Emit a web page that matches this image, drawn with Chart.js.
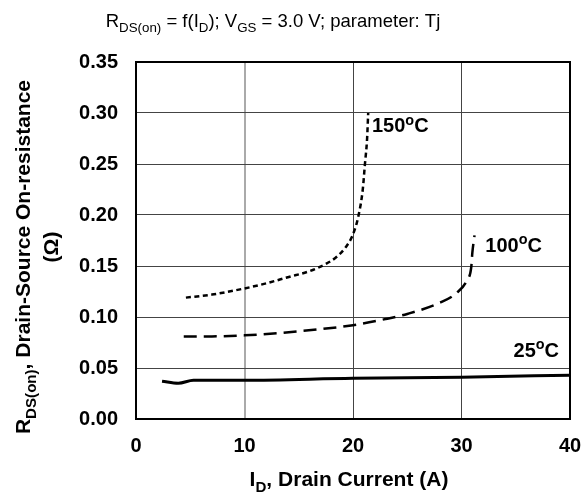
<!DOCTYPE html>
<html>
<head>
<meta charset="utf-8">
<script src="https://cdn.jsdelivr.net/npm/chart.js@4"></script>
<style>
  html, body { margin: 0; padding: 0; background: #fff; }
  #wrap { width: 584px; height: 495px; }
</style>
</head>
<body>
<div id="wrap"><canvas id="chart" width="584" height="495"></canvas></div>
<script>
// Tj = 150 C curve
const id150 = [4.6, 7, 10, 12, 14, 16, 17.5, 18.5, 19.3, 20, 20.5, 20.9, 21.1, 21.3, 21.4];
const r150 = [0.119, 0.122, 0.128, 0.133, 0.139, 0.145, 0.152, 0.159, 0.168, 0.181, 0.199, 0.225, 0.25, 0.275, 0.30];

// Tj = 100 C curve
const id100 = [4.4, 7, 10, 15, 20, 23, 25, 28, 29.6, 30.5, 30.9, 31.0, 31.2];
const r100 = [0.081, 0.081, 0.082, 0.086, 0.092, 0.098, 0.103, 0.114, 0.124, 0.136, 0.149, 0.163, 0.180];

// Tj = 25 C curve
const id25 = [2.4, 3.9, 5.3, 10, 20, 30, 40];
const r25 = [0.037, 0.035, 0.038, 0.038, 0.040, 0.041, 0.043];

const xTicks = [0, 10, 20, 30, 40];
const yTicks = [0, 0.05, 0.10, 0.15, 0.20, 0.25, 0.30, 0.35];

// curve labels: [number, anchor x, anchor y]
const curveLabels = [
  ["150", 21.75, 0.288],
  ["100", 32.2, 0.171],
  ["25", 34.8, 0.068]
];

const FONT = '"Liberation Sans", Arial, Helvetica, sans-serif';

function pts(xs, ys) {
  return xs.map((x, i) => ({ x: x, y: ys[i] }));
}

// draw text made of parts: {t, sub, sup}
function drawRich(ctx, parts, x, y, size, bold, align) {
  const w = bold ? 'bold ' : '';
  let total = 0;
  parts.forEach(p => {
    const s = (p.sub || p.sup) ? size * 0.72 : size;
    ctx.font = w + s + 'px ' + FONT;
    p.w = ctx.measureText(p.t).width;
    total += p.w;
  });
  let cx = align === 'center' ? x - total / 2 : x;
  ctx.textAlign = 'left';
  ctx.textBaseline = 'alphabetic';
  parts.forEach(p => {
    const s = (p.sub || p.sup) ? size * 0.72 : size;
    ctx.font = w + s + 'px ' + FONT;
    let dy = 0;
    if (p.sub) dy = size * 0.28;
    if (p.sup) dy = -size * 0.38;
    ctx.fillText(p.t, cx, y + dy);
    cx += p.w;
  });
}

const textPlugin = {
  id: 'texts',
  afterDraw(chart) {
    const ctx = chart.ctx;
    const a = chart.chartArea;
    const xs = chart.scales.x, ys = chart.scales.y;
    ctx.save();
    ctx.fillStyle = '#000';

    // frame
    ctx.strokeStyle = '#000';
    ctx.lineWidth = 2;
    ctx.strokeRect(a.left, a.top, a.right - a.left, a.bottom - a.top);

    // title
    drawRich(ctx, [
      { t: 'R' }, { t: 'DS(on)', sub: true }, { t: ' = f(I' }, { t: 'D', sub: true },
      { t: '); V' }, { t: 'GS', sub: true }, { t: ' = 3.0 V; parameter: Tj' }
    ], 273, 27, 18.5, false, 'center');

    // x axis title
    drawRich(ctx, [
      { t: 'I' }, { t: 'D', sub: true }, { t: ', Drain Current (A)' }
    ], 349, 486, 21, true, 'center');

    // y axis title
    ctx.save();
    ctx.translate(30, 257);
    ctx.rotate(-Math.PI / 2);
    drawRich(ctx, [
      { t: 'R' }, { t: 'DS(on)', sub: true }, { t: ', Drain-Source On-resistance' }
    ], 0, 0, 21, true, 'center');
    ctx.restore();
    ctx.save();
    ctx.translate(58, 247);
    ctx.rotate(-Math.PI / 2);
    drawRich(ctx, [{ t: '(Ω)' }], 0, 0, 21, true, 'center');
    ctx.restore();

    // curve labels
    curveLabels.forEach(l => {
      const px = xs.getPixelForValue(l[1]);
      const py = ys.getPixelForValue(l[2]);
      drawRich(ctx, [{ t: l[0] }, { t: 'o', sup: true }, { t: 'C' }], px, py + 7, 20, true, 'left');
    });
    ctx.restore();
  }
};

new Chart(document.getElementById('chart'), {
  type: 'line',
  data: {
    datasets: [
      {
        label: '150',
        data: pts(id150, r150),
        borderColor: '#000',
        borderWidth: 2.5,
        borderDash: [5, 3.5],
        pointRadius: 0,
        cubicInterpolationMode: 'monotone',
        fill: false
      },
      {
        label: '100',
        data: pts(id100, r100),
        borderColor: '#000',
        borderWidth: 2.5,
        borderDash: [13, 7],
        pointRadius: 0,
        cubicInterpolationMode: 'monotone',
        fill: false
      },
      {
        label: '25',
        data: pts(id25, r25),
        borderColor: '#000',
        borderWidth: 3,
        pointRadius: 0,
        cubicInterpolationMode: 'monotone',
        fill: false
      }
    ]
  },
  options: {
    responsive: false,
    animation: false,
    clip: false,
    layout: { padding: { left: 0, top: 62, right: 14, bottom: 0 } },
    plugins: {
      legend: { display: false },
      title: { display: false },
      tooltip: { enabled: false }
    },
    scales: {
      x: {
        type: 'linear',
        min: 0,
        max: 40,
        afterBuildTicks: s => { s.ticks = xTicks.map(v => ({ value: v })); },
        afterFit: s => {
          s.height = 76;
          s.paddingLeft = 0;
          s.paddingRight = 0;
        },
        ticks: {
          padding: 15,
          color: '#000',
          font: { family: FONT, size: 20, weight: 'bold' },
          maxRotation: 0
        },
        grid: {
          drawTicks: false,
          color: c => c.tick && c.tick.value === 10 ? '#aaaaaa' : '#444444',
          lineWidth: c => c.tick && c.tick.value === 10 ? 2 : 1
        },
        border: { display: true, color: '#000', width: 2 }
      },
      y: {
        type: 'linear',
        min: 0,
        max: 0.35,
        afterBuildTicks: s => { s.ticks = yTicks.map(v => ({ value: v })); },
        afterFit: s => {
          s.width = 136;
          s.paddingTop = 0;
          s.paddingBottom = 0;
        },
        ticks: {
          padding: 18,
          color: '#000',
          font: { family: FONT, size: 20, weight: 'bold' },
          callback: v => Number(v).toFixed(2)
        },
        grid: {
          drawTicks: false,
          color: '#444444',
          lineWidth: 1
        },
        border: { display: true, color: '#000', width: 2 }
      }
    }
  },
  plugins: [textPlugin]
});
</script>
</body>
</html>
